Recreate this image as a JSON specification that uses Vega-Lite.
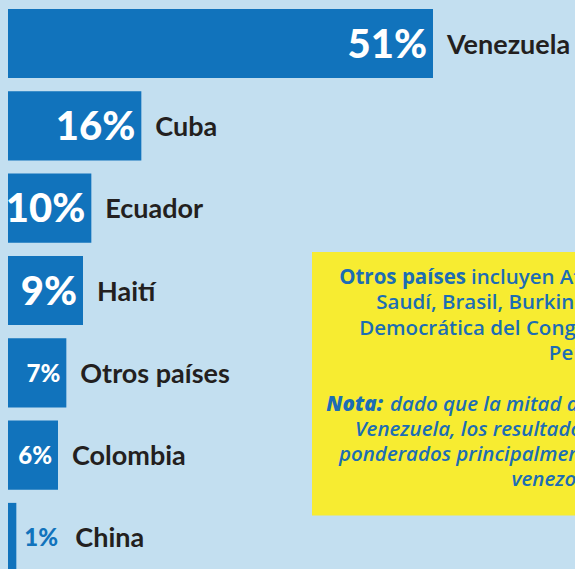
{
  "$schema": "https://vega.github.io/schema/vega-lite/v6.json",
  "width": 567,
  "height": 581,
  "padding": {"left": 8, "top": 0, "right": 0, "bottom": 0},
  "autosize": {"type": "none"},
  "background": "#c3dff0",
  "config": {"view": {"stroke": null}},
  "datasets": {
    "paises": [
      {"pais": "Venezuela", "share": 0.51},
      {"pais": "Cuba", "share": 0.16},
      {"pais": "Ecuador", "share": 0.10},
      {"pais": "Haití", "share": 0.09},
      {"pais": "Otros países", "share": 0.07},
      {"pais": "Colombia", "share": 0.06},
      {"pais": "China", "share": 0.01}
    ]
  },
  "layer": [
    {
      "data": {"name": "paises"},
      "encoding": {
        "y": {"field": "pais", "type": "nominal", "sort": null, "scale": {"paddingInner": 0.16, "paddingOuter": 0.109}, "axis": null},
        "x": {"field": "share", "type": "quantitative", "scale": {"domain": [0, 0.6804], "nice": false, "zero": true}, "axis": null}
      },
      "layer": [
        {"mark": {"type": "bar", "color": "#1173bc"}},
        {
          "transform": [{"filter": "datum.share >= 0.09"}],
          "mark": {"type": "text", "align": "right", "baseline": "middle", "dx": -6, "dy": 2, "font": "Lato", "fontWeight": 900, "fontSize": 40, "color": "#ffffff"},
          "encoding": {"text": {"field": "share", "format": ".0%"}}
        },
        {
          "transform": [{"filter": "datum.share < 0.09 && datum.share >= 0.02"}],
          "mark": {"type": "text", "align": "right", "baseline": "middle", "dx": -6, "dy": 2, "font": "Lato", "fontWeight": 900, "fontSize": 24, "color": "#ffffff"},
          "encoding": {"text": {"field": "share", "format": ".0%"}}
        },
        {
          "transform": [{"filter": "datum.share < 0.02"}],
          "mark": {"type": "text", "align": "left", "baseline": "middle", "dx": 8, "dy": 2, "font": "Lato", "fontWeight": 900, "fontSize": 24, "color": "#1173bc"},
          "encoding": {"text": {"field": "share", "format": ".0%"}}
        },
        {
          "transform": [{"filter": "datum.share >= 0.02"}],
          "mark": {"type": "text", "align": "left", "baseline": "middle", "dx": 14, "dy": 2, "font": "Lato", "fontWeight": "bold", "fontSize": 27, "color": "#231f20"},
          "encoding": {"text": {"field": "pais"}}
        },
        {
          "transform": [{"filter": "datum.share < 0.02"}],
          "mark": {"type": "text", "align": "left", "baseline": "middle", "dx": 59, "dy": 2, "font": "Lato", "fontWeight": "bold", "fontSize": 27, "color": "#231f20"},
          "encoding": {"text": {"field": "pais"}}
        }
      ]
    },
    {
      "layer": [
        {
          "data": {"values": [{}]},
          "mark": {"type": "rect", "color": "#f7ec31"},
          "encoding": {
            "x": {"datum": 0.3648, "type": "quantitative"},
            "x2": {"datum": 1.2},
            "y": {"datum": -1.27, "type": "quantitative", "scale": {"domain": [-11.23, 11.74], "reverse": true, "nice": false, "zero": false}, "axis": null},
            "y2": {"datum": 9.15}
          }
        },
        {
          "data": {"values": [
            {"linea": 1, "texto": "Saudí, Brasil, Burkina Faso, la República"},
            {"linea": 2, "texto": "Democrática del Congo, Guatemala, India y"},
            {"linea": 3, "texto": "Perú"}
          ]},
          "mark": {"type": "text", "align": "center", "baseline": "alphabetic", "font": "Open Sans", "fontWeight": 600, "fontSize": 20.5, "color": "#1c6db4"},
          "encoding": {
            "x": {"datum": 0.6768, "type": "quantitative"},
            "y": {"field": "linea", "type": "quantitative"},
            "text": {"field": "texto"}
          }
        },
        {
          "data": {"values": [
            {"linea": 6, "texto": "Venezuela, los resultados de la encuesta están"},
            {"linea": 7, "texto": "ponderados principalmente hacia los inmigrantes"},
            {"linea": 8, "texto": "venezolanos."}
          ]},
          "mark": {"type": "text", "align": "center", "baseline": "alphabetic", "font": "Open Sans", "fontWeight": 600, "fontStyle": "italic", "fontSize": 20.5, "color": "#1c6db4"},
          "encoding": {
            "x": {"datum": 0.6768, "type": "quantitative"},
            "y": {"field": "linea", "type": "quantitative"},
            "text": {"field": "texto"}
          }
        },
        {
          "data": {"values": [{"linea": 0, "texto": "Otros países"}]},
          "mark": {"type": "text", "align": "right", "baseline": "alphabetic", "dx": -106, "font": "Open Sans", "fontWeight": 700, "fontSize": 20.5, "color": "#1c6db4"},
          "encoding": {
            "x": {"datum": 0.6768, "type": "quantitative"},
            "y": {"field": "linea", "type": "quantitative"},
            "text": {"field": "texto"}
          }
        },
        {
          "data": {"values": [{"linea": 0, "texto": "incluyen Afganistán, Angola, Arabia"}]},
          "mark": {"type": "text", "align": "left", "baseline": "alphabetic", "dx": -101, "font": "Open Sans", "fontWeight": 600, "fontSize": 20.5, "color": "#1c6db4"},
          "encoding": {
            "x": {"datum": 0.6768, "type": "quantitative"},
            "y": {"field": "linea", "type": "quantitative"},
            "text": {"field": "texto"}
          }
        },
        {
          "data": {"values": [{"linea": 5, "texto": "Nota:"}]},
          "mark": {"type": "text", "align": "right", "baseline": "alphabetic", "dx": -189, "font": "Open Sans", "fontWeight": 800, "fontStyle": "italic", "fontSize": 20.5, "color": "#1c6db4"},
          "encoding": {
            "x": {"datum": 0.6768, "type": "quantitative"},
            "y": {"field": "linea", "type": "quantitative"},
            "text": {"field": "texto"}
          }
        },
        {
          "data": {"values": [{"linea": 5, "texto": "dado que la mitad de los encuestados son de"}]},
          "mark": {"type": "text", "align": "left", "baseline": "alphabetic", "dx": -182, "font": "Open Sans", "fontWeight": 600, "fontStyle": "italic", "fontSize": 20.5, "color": "#1c6db4"},
          "encoding": {
            "x": {"datum": 0.6768, "type": "quantitative"},
            "y": {"field": "linea", "type": "quantitative"},
            "text": {"field": "texto"}
          }
        }
      ]
    }
  ],
  "resolve": {"scale": {"y": "independent"}}
}
